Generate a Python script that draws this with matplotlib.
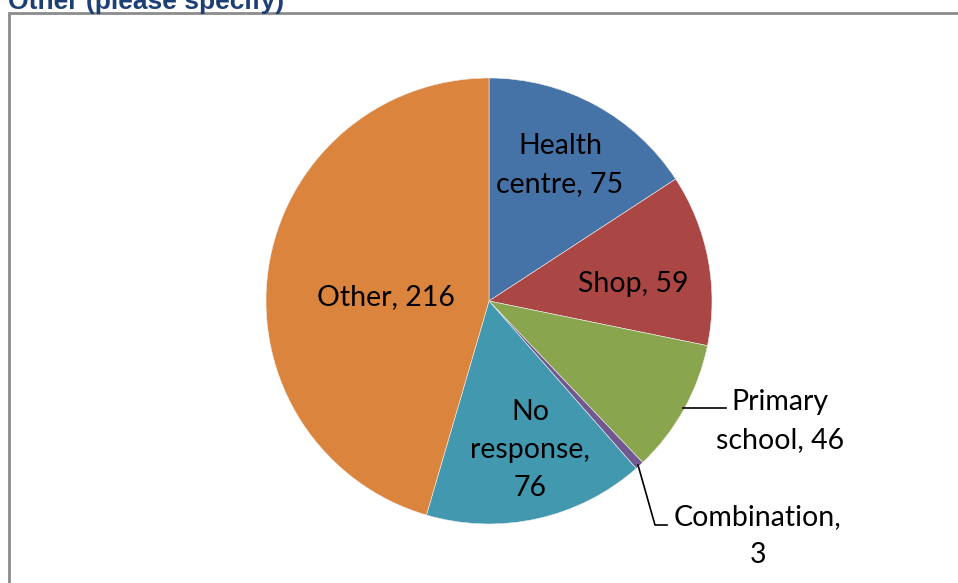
import matplotlib
matplotlib.use("Agg")
import matplotlib.pyplot as plt
from matplotlib.patches import Rectangle

# Data
categories = ["Health centre", "Shop", "Primary school", "Combination", "No response", "Other"]
values = [75, 59, 46, 3, 76, 216]
labels = ["Health\ncentre, 75", "Shop, 59", "Primary\nschool, 46", "Combination,\n3", "No\nresponse,\n76", "Other, 216"]
colors = ["#4572A7", "#AA4643", "#89A54E", "#71588F", "#4198AF", "#DB843D"]
title = "Other (please specify)"

W, H = 958, 583
fig = plt.figure(figsize=(W / 100, H / 100), dpi=100)
ax = fig.add_axes([0, 0, 1, 1])

def P(x, y):
    return (x, H - y)

cx, cy = P(489, 301)
R = 223
ax.pie(values, colors=colors, startangle=90, counterclock=False,
       center=(cx, cy), radius=R, frame=False,
       wedgeprops=dict(edgecolor="#f0f0f0", linewidth=0.4))
ax.set_xlim(0, W)
ax.set_ylim(0, H)
ax.set_aspect("auto")
ax.axis("off")

# border
ax.add_patch(Rectangle(P(9, 600), 1000, 587, fill=False, edgecolor="#8c8c8c", linewidth=2, clip_on=False))

# title
ax.text(*P(8, 8.5), title, fontsize=19, fontweight="bold", color="#1C3F75",
        family="Liberation Sans", ha="left", va="baseline")

font = dict(family=["Lato", "DejaVu Sans"], fontsize=20.5, color="black", linespacing=1.55)
label_pos = [(560, 165), (633, 284), (780, 421), (758, 536), (530, 450), (386, 297)]
for lab, (x, y) in zip(labels, label_pos):
    ax.text(*P(x, y), lab, ha="center", va="center", **font)

# leader lines
ax.plot(*zip(P(683, 408), P(726, 408)), color="black", linewidth=1.2)
ax.plot(*zip(P(638, 465), P(655, 525), P(667, 525)), color="black", linewidth=1.2)

fig.savefig("out.png", dpi=100)
